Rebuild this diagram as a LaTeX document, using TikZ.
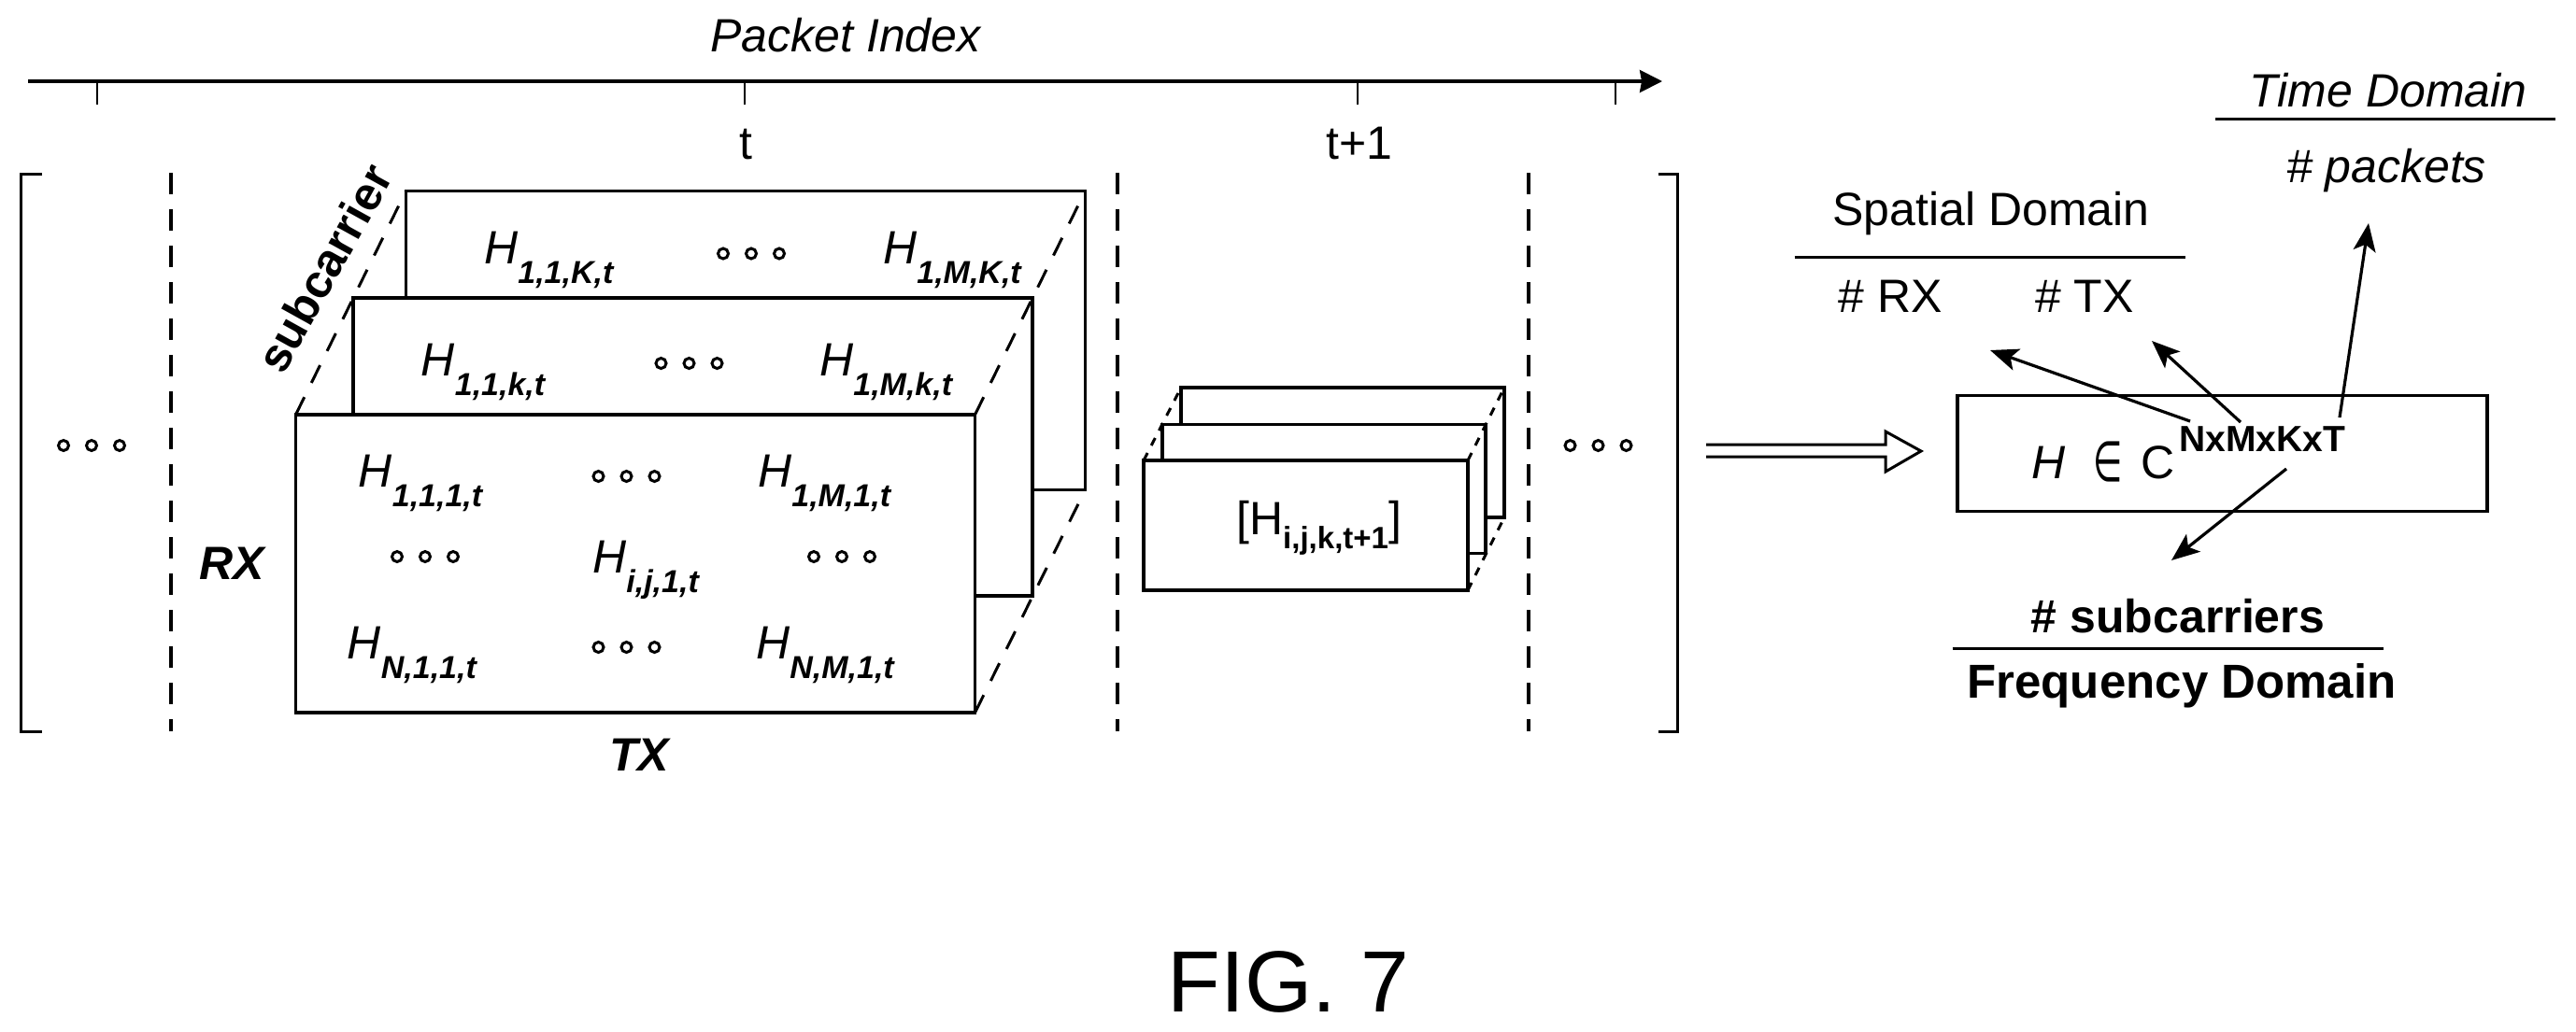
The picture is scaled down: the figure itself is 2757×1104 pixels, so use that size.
\documentclass[tikz,border=0pt]{standalone}
\usepackage{fontspec}
\setmainfont{Liberation Sans}
\newfontfamily\symfont{DejaVu Sans}
\usetikzlibrary{arrows.meta}

\newcommand{\bigsz}{\fontsize{50}{60}\selectfont}
\newcommand{\subsz}{\fontsize{34}{40}\selectfont}
% italic H with its bold italic index
\newcommand{\hidx}[1]{\textit{H}\raisebox{-.42em}{\subsz\bfseries\itshape #1}}

\tikzset{
  lab/.style={font=\bigsz,anchor=base,inner sep=0pt},
  hlab/.style={font=\bigsz,anchor=base west,inner sep=0pt},
  slice/.style={draw,fill=white,line width=3.5pt,inner sep=0pt,outer sep=0pt,anchor=north west},
  rule/.style={line width=3pt},
  sep/.style={line width=3.6pt,dash pattern=on 23pt off 16pt},
  depth/.style={line width=3pt,dash pattern=on 21pt off 17pt},
  depthsm/.style={line width=3pt,dash pattern=on 9pt off 9pt},
  tip/.style={line width=3.2pt,-{Stealth[length=30pt,width=24pt,inset=7pt]}}
}

\begin{document}
\begin{tikzpicture}[x=1pt,y=-1pt]
        \useasboundingbox (0,0) rectangle (2757,1104);
        % axis
        \coordinate (axisstart) at (30,87);
        \coordinate (axisend) at (1779,87);
        \draw[line width=3.4pt,-{Stealth[length=24pt,width=24pt,inset=2pt]}] (axisstart) -- (axisend);
        \foreach \x in {104,797,1453,1729} \draw[line width=2.6pt] (\x,87) -- (\x,112);
        \node[lab,font=\bigsz\itshape] (pktlabel) at (905,55) {Packet Index};
        \node[lab] (tlabel) at (798,170) {t};
        \node[lab] (tnextlabel) at (1455,170) {t+1};
        % brackets and separators
        \draw[rule] (45,186.5) -- (22,186.5) -- (22,783) -- (45,783);
        \draw[rule] (1775,186.5) -- (1795,186.5) -- (1795,783) -- (1775,783);
        \foreach \x in {183,1196,1636} \draw[sep] (\x,185) -- (\x,783);
        % slices at t
        \node[slice,minimum width=727pt,minimum height=320pt] (backslice) at (434.5,204.5) {};
        \node[slice,minimum width=727pt,minimum height=319pt] (midslice) at (378,319) {};
        \node[slice,minimum width=727pt,minimum height=319pt] (frontslice) at (316.5,444) {};
        \draw[depth] (frontslice.north west) -- (backslice.north west);
        \draw[depth] (frontslice.north east) -- (backslice.north east);
        \draw[depth] (frontslice.south east) -- (backslice.south east);
        \node[lab,font=\bigsz\bfseries\itshape] (rxlabel) at (248,620) {RX};
        \node[lab,font=\bigsz\bfseries\itshape] (txlabel) at (684,825) {TX};
        \node[lab,font=\bigsz\bfseries,rotate=61,anchor=center] (sclabel) at (347,287) {subcarrier};
        \node[hlab] (h1) at (518,282.5) {\hidx{1,1,K,t}};
        \node[hlab] (h2) at (945,282.5) {\hidx{1,M,K,t}};
        \node[hlab] (h3) at (450.5,402) {\hidx{1,1,k,t}};
        \node[hlab] (h4) at (877,402) {\hidx{1,M,k,t}};
        \node[hlab] (h5) at (383.5,521) {\hidx{1,1,1,t}};
        \node[hlab] (h6) at (811,521) {\hidx{1,M,1,t}};
        \node[hlab] (h7) at (634,613) {\hidx{i,j,1,t}};
        \node[hlab] (h8) at (371.5,705) {\hidx{N,1,1,t}};
        \node[hlab] (h9) at (809,705) {\hidx{N,M,1,t}};
        % three small rings
        \foreach \x/\y in {98/477,804/271.5,737.5/389,670.5/510,455/596,901/596,670.5/693,1710.5/477}
          \foreach \d in {-30,0,30} \draw[line width=3pt] (\x+\d,\y) circle (5.5pt);
        % slices at t+1
        \node[slice,minimum width=346pt,minimum height=139pt] (backsmall) at (1264,415) {};
        \node[slice,minimum width=346pt,minimum height=138pt] (midsmall) at (1244,454.5) {};
        \node[slice,minimum width=347pt,minimum height=139pt] (frontsmall) at (1224,493) {};
        \draw[depthsm] (frontsmall.north west) -- (backsmall.north west);
        \draw[depthsm] (frontsmall.north east) -- (backsmall.north east);
        \draw[depthsm] (frontsmall.south east) -- (backsmall.south east);
        \node[hlab,font=\bigsz] (hnext) at (1323,572) {[H\raisebox{-.3em}{\fontsize{33}{40}\selectfont\bfseries i,j,k,t+1}]};
        % double arrow
        \draw[rule] (1826,476) -- (2018,476) -- (2018,462) -- (2056,483) -- (2018,505) -- (2018,489) -- (1826,489);
        % tensor box
        \node[slice,minimum width=567pt,minimum height=124pt] (tensorbox) at (2095,423.5) {};
        \node[lab,font=\bigsz\itshape] (hsym) at (2193,512) {H};
        \node[lab,font=\fontsize{60}{60}\selectfont\symfont,xscale=.6] (insym) at (2256,515) {∈};
        \node[lab] (csym) at (2310,512) {C};
        \node[lab,font=\fontsize{39}{44}\selectfont\bfseries] (expo) at (2421,483) {NxMxKxT};
        % domains
        \node[lab] (spatial) at (2131,241) {Spatial Domain};
        \node[lab] (nrx) at (2023,334.5) {\# RX};
        \node[lab] (ntx) at (2231,334.5) {\# TX};
        \node[lab,font=\bigsz\itshape] (timedom) at (2556,114) {Time Domain};
        \node[lab,font=\bigsz\itshape] (npkt) at (2554,195) {\# packets};
        \node[lab,font=\bigsz\bfseries] (nsub) at (2331,677.5) {\# subcarriers};
        \node[lab,font=\fontsize{51}{60}\selectfont\bfseries] (freqdom) at (2335,747) {Frequency Domain};
        \draw[rule] (1920.5,275) -- (2338.5,275);
        \draw[rule] (2371,127) -- (2735,127);
        \draw[rule] (2089.5,694) -- (2550.5,694);
        % arrows from the exponent
        \coordinate (rxfrom) at (2344,451);
        \coordinate (rxto) at (2130,375);
        \coordinate (txfrom) at (2398,452);
        \coordinate (txto) at (2303,365);
        \coordinate (pktfrom) at (2504,447);
        \coordinate (pktto) at (2535,239);
        \coordinate (subfrom) at (2447,502);
        \coordinate (subto) at (2324,600);
        \draw[tip] (rxfrom) -- (rxto);
        \draw[tip] (txfrom) -- (txto);
        \draw[tip] (pktfrom) -- (pktto);
        \draw[tip] (subfrom) -- (subto);
        \node[lab,font=\fontsize{93}{100}\selectfont] (figlabel) at (1379,1083) {FIG. 7};
\end{tikzpicture}
\end{document}
